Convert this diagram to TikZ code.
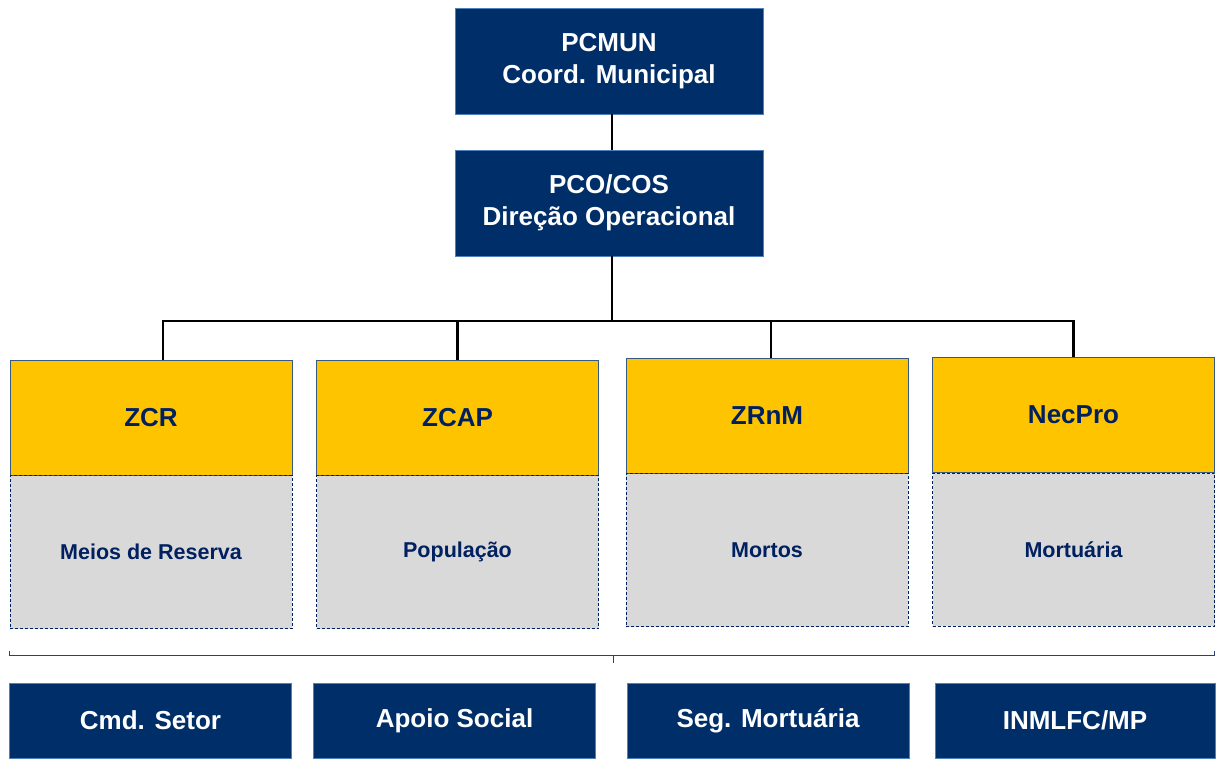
\documentclass[tikz,border=0pt]{standalone}
\usepackage{fontspec}
\setmainfont{Liberation Sans}
\usetikzlibrary{positioning}
\definecolor{navy}{RGB}{0,46,104}
\definecolor{boxedge}{RGB}{79,129,189}
\definecolor{gold}{RGB}{255,196,0}
\definecolor{lightgrey}{RGB}{217,217,217}
\definecolor{inkblue}{RGB}{0,32,96}

\begin{document}
\begin{tikzpicture}[x=1pt, y=-1pt,
  head/.style={rectangle, draw=boxedge, line width=0.8pt, fill=navy, text=white, align=center, minimum width=308pt, minimum height=106pt, inner sep=0pt, font=\bfseries\fontsize{26}{32}\selectfont},
  zone/.style={rectangle, draw=boxedge!70!black, line width=0.8pt, fill=gold, text=inkblue, minimum width=282pt, minimum height=115pt, inner sep=0pt, font=\bfseries\fontsize{26}{30}\selectfont},
  task/.style={rectangle, draw=inkblue, dash pattern=on 3pt off 2pt, line width=0.8pt, fill=lightgrey, text=inkblue, minimum width=282pt, minimum height=153pt, inner sep=0pt, font=\bfseries\fontsize{21.5}{26}\selectfont},
  unit/.style={rectangle, draw=boxedge, line width=0.8pt, fill=navy, text=white, minimum width=282pt, minimum height=75pt, inner sep=0pt, font=\bfseries\fontsize{26}{30}\selectfont},
  link/.style={line width=2.5pt, black},
  bracket/.style={line width=1pt, inkblue!85}
]
\useasboundingbox (0,0) rectangle (1217,758);

% command chain
\node[head] (pcmun) at (609,61)  {PCMUN\\Coord. Municipal};
\node[head] (pco)   at (609,203) {PCO/COS\\Direção Operacional};

% zones
\node[zone] (zcr)    at (151,417.5)   {ZCR};
\node[zone] (zcap)   at (457.5,417.5) {ZCAP};
\node[zone] (zrnm)   at (767,415.5)   {ZRnM};
\node[zone] (necpro) at (1073.5,415)  {NecPro};

\node[task, below=0pt of zcr]    (reserva)   {Meios de Reserva};
\node[task, below=0pt of zcap]   (populacao) {População};
\node[task, below=0pt of zrnm]   (mortos)    {Mortos};
\node[task, below=0pt of necpro] (mortuaria) {Mortuária};

% responsible units
\node[unit] (setor)   at (150.5,720.5) {Cmd. Setor};
\node[unit] (social)  at (454.5,720.5) {Apoio Social};
\node[unit] (segmort) at (768,720.5)   {Seg. Mortuária};
\node[unit, minimum width=280pt] (inml) at (1075,720.5) {INMLFC/MP};

% connectors
\coordinate (bus) at (612,321);
\draw[link] (pcmun.south -| bus) -- (pco.north -| bus);
\draw[link] (pco.south -| bus) -- (bus);
\foreach \n/\dx in {zcr/12, zcap/0, zrnm/4, necpro/0}
  \draw[link] (bus) -| ([xshift=\dx pt]\n.north);

% bracket
\coordinate (bl) at (9,651);
\coordinate (br) at (1214,651);
\coordinate (bm) at (613,655);
\coordinate (bt) at (613,663);
\draw[bracket] (bl) |- (bm) -| (br);
\draw[bracket] (bm) -- (bt);
\end{tikzpicture}
\end{document}
